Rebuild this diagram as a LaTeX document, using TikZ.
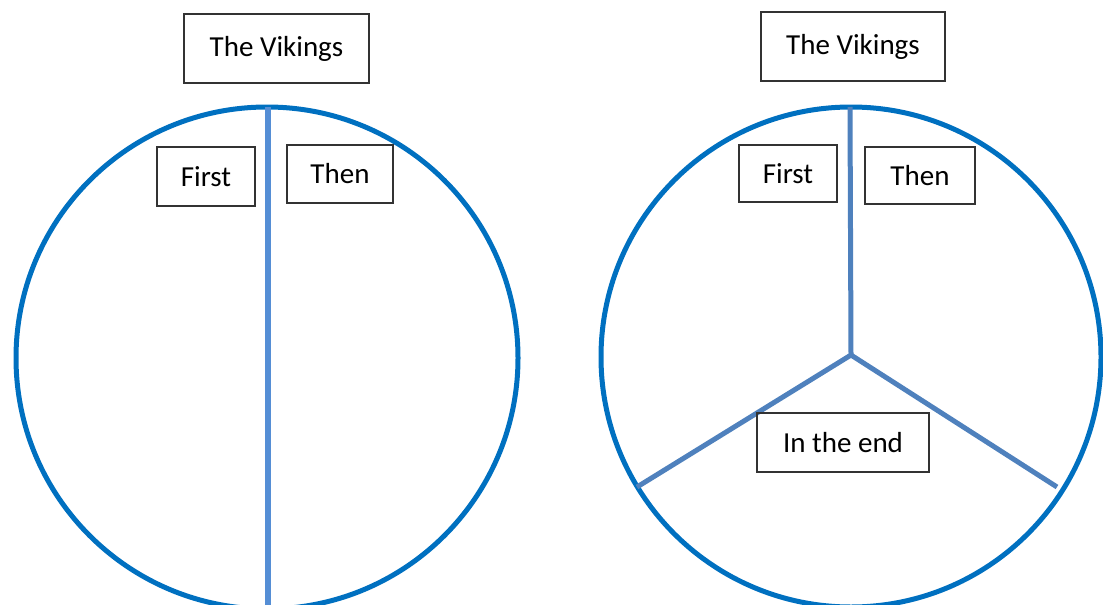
\documentclass[tikz,border=0pt]{standalone}
\usepackage{fontspec}
\setmainfont{Carlito}
\begin{document}
\begin{tikzpicture}[x=1pt, y=-1pt,
  label box/.style={draw=black!80, line width=1.3pt, rectangle, inner sep=0pt, font=\fontsize{29}{34}\selectfont},
  rim/.style={draw={rgb,255:red,0;green,112;blue,192}, line width=5pt},
  split/.style={draw={rgb,255:red,85;green,142;blue,213}, line width=6pt},
  spoke/.style={draw={rgb,255:red,79;green,129;blue,189}, line width=5pt}]
  \useasboundingbox (0,0) rectangle (1103,605);

  % left circle: two parts
  \coordinate (lc) at (267,358);
  \draw[rim] (lc) circle (251);
  \coordinate (ltop) at (268,107);
  \coordinate (lbot) at (268,608);
  \draw[split] (ltop) -- (lbot);
  \node[label box, minimum width=185, minimum height=69] (ltitle) at (276.5,48.5) {The Vikings\hspace{8pt}};
  \node[label box, minimum width=98, minimum height=59] (lfirst) at (206,176.5) {First};
  \node[label box, minimum width=106, minimum height=58] (lthen) at (340,174) {Then};

  % right circle: three parts
  \coordinate (rc) at (851,357);
  \draw[rim] (rc) circle (250);
  \coordinate (hub) at (851,355);
  \coordinate (rtop) at (850,107);
  \coordinate (rleft) at (637,487);
  \coordinate (rright) at (1057,487);
  \draw[spoke] (hub) -- (rtop);
  \draw[spoke] (hub) -- (rleft);
  \draw[spoke] (hub) -- (rright);
  \node[label box, minimum width=184, minimum height=69] (rtitle) at (853,46.5) {The Vikings\hspace{8pt}};
  \node[label box, minimum width=98, minimum height=57] (rfirst) at (788,173.5) {First};
  \node[label box, minimum width=110, minimum height=57] (rthen) at (920,175.5) {Then};
  \node[label box, minimum width=172, minimum height=59] (rend) at (843,442.5) {In the end};
\end{tikzpicture}
\end{document}
